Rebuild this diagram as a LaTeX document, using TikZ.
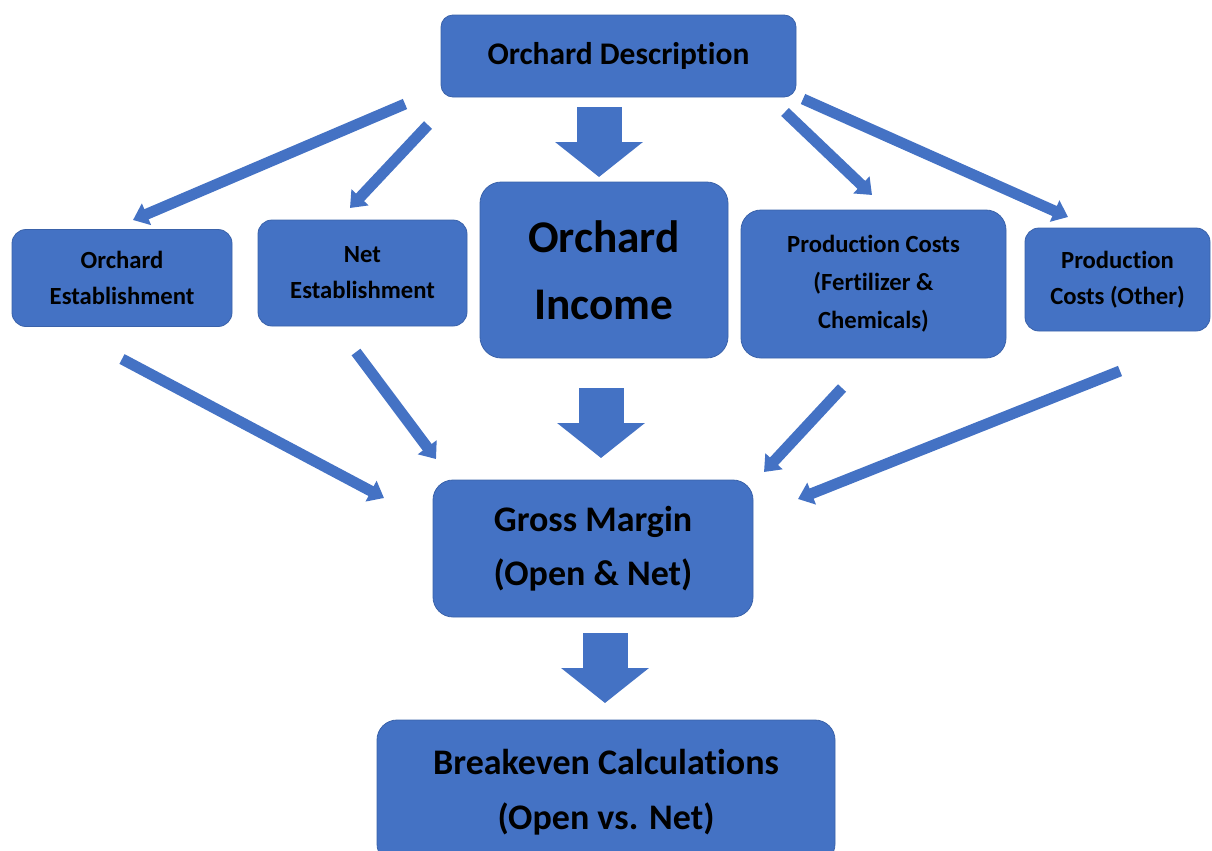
\documentclass[tikz,border=0pt]{standalone}
\usepackage{fontspec}
\setmainfont{Carlito}[Ligatures=NoCommon]
\usetikzlibrary{arrows.meta}
\definecolor{boxblue}{HTML}{4472C4}
\definecolor{edgeblue}{HTML}{3A62AA}
\tikzset{
  box/.style={draw=edgeblue, line width=0.6pt, fill=boxblue, text=black, align=center,
    inner sep=0pt, font=\bfseries},
  thinarrow/.style={draw=boxblue, line width=8.25pt, line cap=butt,
    -{Triangle[width=17pt,length=11pt]}},
  blockarrow/.style={draw=boxblue, line width=33.75pt, line cap=butt,
    -{Triangle[width=64.5pt,length=26.25pt]}}
}
\begin{document}
\begin{tikzpicture}[x=0.75pt,y=-0.75pt]
\useasboundingbox (0,0) rectangle (1212,850);
\clip (0,0) rectangle (1212,850);
% boxes
\node[box, rounded corners=9pt, minimum width=355*0.75pt, minimum height=82*0.75pt,
  font=\bfseries\fontsize{23.6}{30}\selectfont] (desc) at (618.5,56) {Orchard Description};
\node[box, rounded corners=10.5pt, minimum width=220*0.75pt, minimum height=97*0.75pt,
  font=\bfseries\fontsize{18.5}{27}\selectfont] (est) at (122,278) {Orchard\\Establishment};
\node[box, rounded corners=10.5pt, minimum width=209*0.75pt, minimum height=106*0.75pt,
  font=\bfseries\fontsize{18.5}{27}\selectfont] (net) at (362.5,273) {Net\\Establishment};
\node[box, rounded corners=16pt, minimum width=248*0.75pt, minimum height=176*0.75pt,
  font=\bfseries\fontsize{34}{50}\selectfont] (inc) at (604,270) {Orchard\\Income};
\node[box, rounded corners=15pt, minimum width=265*0.75pt, minimum height=148*0.75pt,
  font=\bfseries\fontsize{18.5}{28.5}\selectfont] (fert) at (873.5,284) {Production Costs\\(Fertilizer \&\\Chemicals)};
\node[box, rounded corners=10.5pt, minimum width=185*0.75pt, minimum height=103*0.75pt,
  font=\bfseries\fontsize{18.5}{27}\selectfont] (other) at (1117.5,279.5) {Production\\Costs (Other)};
\node[box, rounded corners=15pt, minimum width=320*0.75pt, minimum height=137*0.75pt,
  font=\bfseries\fontsize{27}{40.5}\selectfont] (gross) at (593,548.5) {Gross Margin\\(Open \& Net)};
\node[box, rounded corners=15pt, minimum width=458*0.75pt, minimum height=144*0.75pt,
  font=\bfseries\fontsize{27}{41}\selectfont] (brk) at (606,792) {Breakeven Calculations\\(Open vs. Net)};
% connector end points
\coordinate (b1s) at (599,107); \coordinate (b1e) at (599,177);
\coordinate (b2s) at (601,388); \coordinate (b2e) at (601,458);
\coordinate (b3s) at (605,633); \coordinate (b3e) at (605,703);
\coordinate (as) at (405,104);  \coordinate (ae) at (133,220);
\coordinate (bs) at (428,125);  \coordinate (be) at (350,208);
\coordinate (cs) at (785,112);  \coordinate (ce) at (872,195);
\coordinate (ds) at (803,99);   \coordinate (de) at (1068,217);
\coordinate (es) at (122,359);  \coordinate (ee) at (384,498);
\coordinate (fs) at (356,352);  \coordinate (fe) at (436,459);
\coordinate (gs) at (842,388);  \coordinate (ge) at (764,472);
\coordinate (hs) at (1120,371); \coordinate (he) at (798,499);
% block arrows
\draw[blockarrow] (b1s) -- (b1e);
\draw[blockarrow] (b2s) -- (b2e);
\draw[blockarrow] (b3s) -- (b3e);
% thin arrows
\draw[thinarrow] (as) -- (ae);
\draw[thinarrow] (bs) -- (be);
\draw[thinarrow] (cs) -- (ce);
\draw[thinarrow] (ds) -- (de);
\draw[thinarrow] (es) -- (ee);
\draw[thinarrow] (fs) -- (fe);
\draw[thinarrow] (gs) -- (ge);
\draw[thinarrow] (hs) -- (he);
\end{tikzpicture}
\end{document}
